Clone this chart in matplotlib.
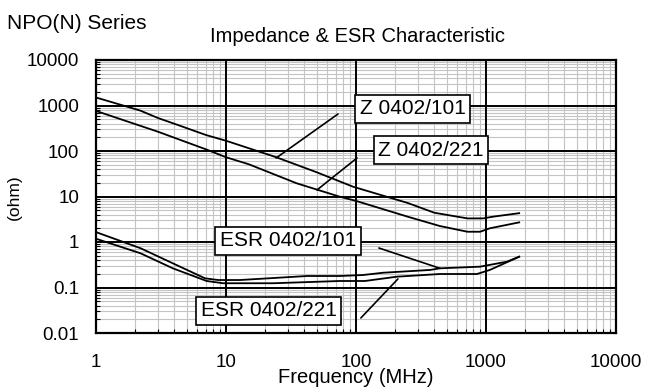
import numpy as np
import matplotlib
matplotlib.use("Agg")
import matplotlib.pyplot as plt
from matplotlib.ticker import FixedLocator, NullFormatter, LogLocator

plt.rcParams['font.family'] = ['Liberation Sans', 'DejaVu Sans']

# Impedance curves (MHz, ohm)
freq_z101 = [1, 2.2, 3, 4.3, 7, 10, 24, 50, 95, 250, 400, 720, 950, 1130, 1800]
z_101 = [1500, 770, 530, 370, 225, 168, 74, 34, 16.4, 7.2, 4.4, 3.3, 3.3, 3.6, 4.3]

freq_z221 = [1, 3, 7, 10, 15, 35, 75, 100, 250, 440, 720, 900, 1070, 1800]
z_221 = [760, 265, 109, 73, 51, 19.5, 9.9, 8.0, 3.6, 2.25, 1.68, 1.68, 2.0, 2.7]

# ESR curves
freq_esr101 = [1, 2.2, 3.9, 6.9, 8.7, 12.8, 42, 75, 113, 161, 371, 443, 900, 1450, 1800]
esr_101 = [1.65, 0.73, 0.34, 0.159, 0.146, 0.146, 0.179, 0.179, 0.188, 0.211, 0.243,
           0.264, 0.287, 0.369, 0.475]

freq_esr221 = [1, 2.2, 3.9, 7.1, 9.5, 23, 75, 117, 207, 443, 853, 1070, 1800]
esr_221 = [1.18, 0.565, 0.264, 0.139, 0.124, 0.124, 0.139, 0.139, 0.173, 0.198, 0.198,
           0.243, 0.475]

x_ticks = [1, 10, 100, 1000, 10000]
x_labels = ["1", "10", "100", "1000", "10000"]
y_ticks = [0.01, 0.1, 1, 10, 100, 1000, 10000]
y_labels = ["0.01", "0.1", "1", "10", "100", "1000", "10000"]

fig = plt.figure(figsize=(6.45, 3.87), dpi=100)
ax = fig.add_axes([96 / 645, 54 / 387, 520 / 645, 273 / 387])

ax.set_xscale("log")
ax.set_yscale("log")
ax.set_xlim(1, 10000)
ax.set_ylim(0.01, 10000)

for f, v in [(freq_z101, z_101), (freq_z221, z_221),
             (freq_esr101, esr_101), (freq_esr221, esr_221)]:
    ax.plot(f, v, color="black", lw=1.3, zorder=3)

# grid: grey minor lines, black decade lines drawn on top of them
ax.xaxis.set_major_locator(FixedLocator(x_ticks))
ax.yaxis.set_major_locator(FixedLocator(y_ticks))
ax.xaxis.set_minor_locator(LogLocator(base=10, subs=np.arange(2, 10), numticks=20))
ax.yaxis.set_minor_locator(LogLocator(base=10, subs=np.arange(2, 10), numticks=20))
ax.xaxis.set_minor_formatter(NullFormatter())
ax.yaxis.set_minor_formatter(NullFormatter())
ax.set_xticklabels(x_labels)
ax.set_yticklabels(y_labels)
ax.set_axisbelow(True)
ax.grid(which="minor", color="#c4c4c4", lw=0.8)
for xv in x_ticks[1:-1]:
    ax.axvline(xv, color="black", lw=1.4, zorder=1)
for yv in y_ticks[1:-1]:
    ax.axhline(yv, color="black", lw=1.4, zorder=1)

ax.tick_params(which="major", length=0, labelsize=13.5)
ax.tick_params(axis="x", which="major", pad=15)
ax.tick_params(axis="y", which="major", pad=12)
ax.tick_params(which="minor", direction="in", length=3, width=0.8, color="black")
for s in ax.spines.values():
    s.set_linewidth(1.6)

# labels with leader lines
box = dict(boxstyle="square,pad=0.22", fc="white", ec="black", lw=1.2)
labels = [
    ("Z 0402/101", 0.609, 0.822, (24.3, 70.2), (72.7, 650)),
    ("Z 0402/221", 0.644, 0.670, (50.1, 13.9), (101.8, 70.2)),
    ("ESR 0402/101", 0.369, 0.338, (443, 0.264), (150, 0.738)),
    ("ESR 0402/221", 0.332, 0.082, (210, 0.154), (109, 0.0214)),
]
for txt, bx, by, p0, p1 in labels:
    ax.annotate("", xy=p0, xytext=p1, arrowprops=dict(arrowstyle="-", color="black", lw=1.2,
                                                      shrinkA=0, shrinkB=0), zorder=4)
    ax.text(bx, by, txt, transform=ax.transAxes, ha="center", va="center",
            fontsize=15, bbox=box, zorder=5)

fig.text(7 / 645, 1 - 29 / 387, "NPO(N) Series", fontsize=15, va="baseline", ha="left")
fig.text(357 / 645, 1 - 42 / 387, "Impedance & ESR Characteristic", fontsize=14.5,
         va="baseline", ha="center")
fig.text(356 / 645, 1 - 383 / 387, "Frequency (MHz)", fontsize=14.5, va="baseline", ha="center")
fig.text(14 / 645, 1 - 197 / 387, "(ohm)", fontsize=12.5, rotation=90, va="center", ha="center")

fig.savefig("out.png", dpi=100)
